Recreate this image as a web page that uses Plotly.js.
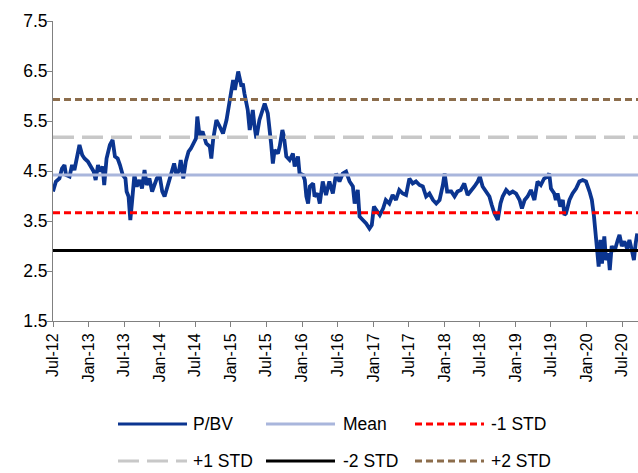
<!DOCTYPE html>
<html>
<head>
<meta charset="utf-8">
<script src="https://cdn.plot.ly/plotly-3.0.1.min.js"></script>
<style>
  html, body { margin: 0; padding: 0; background: #ffffff; }
  #chart { width: 638px; height: 473px; }
</style>
</head>
<body>
<div id="chart"></div>
<script>
// Price-to-book valuation history with mean and standard-deviation bands
const seriesName = 'P/BV';

const dates = [
  '2012-07-01','2012-07-16','2012-08-03','2012-08-16','2012-08-29','2012-09-06','2012-09-24','2012-10-07',
  '2012-10-19','2012-11-01','2012-11-14','2012-11-28','2012-12-10','2012-12-27','2013-01-13','2013-01-26',
  '2013-02-05','2013-02-17','2013-02-28','2013-03-13','2013-03-21','2013-04-02','2013-04-19','2013-05-03',
  '2013-05-15','2013-05-29','2013-06-10','2013-06-24','2013-07-08','2013-07-14','2013-07-24','2013-08-02',
  '2013-08-11','2013-08-23','2013-09-04','2013-09-18','2013-10-01','2013-10-14','2013-10-25','2013-11-08',
  '2013-11-22','2013-12-04','2013-12-16','2013-12-30','2014-01-13','2014-01-25','2014-02-06','2014-02-20',
  '2014-03-03','2014-03-15','2014-03-27','2014-04-10','2014-04-18','2014-05-01','2014-05-14','2014-05-28',
  '2014-06-09','2014-06-21','2014-07-05','2014-07-12','2014-07-17','2014-07-24','2014-08-08',
  '2014-08-27','2014-09-14','2014-09-22',
  '2014-10-01','2014-10-18','2014-11-04','2014-11-21','2014-12-09','2014-12-25','2015-01-04','2015-01-12',
  '2015-01-21','2015-02-07','2015-02-24','2015-03-03','2015-03-11','2015-03-28','2015-04-07','2015-04-15',
  '2015-04-23','2015-05-02','2015-05-11','2015-05-27','2015-06-14','2015-06-23','2015-07-09','2015-07-18',
  '2015-07-26','2015-08-04','2015-08-13','2015-08-30','2015-09-08','2015-09-22','2015-09-30','2015-10-12',
  '2015-10-29','2015-11-15','2015-11-24','2015-12-11','2015-12-19','2016-01-06','2016-01-15','2016-01-23',
  '2016-02-01','2016-02-10','2016-02-27','2016-03-05','2016-03-21','2016-04-01','2016-04-16','2016-05-03',
  '2016-05-20','2016-06-07','2016-06-24','2016-07-11','2016-07-28','2016-08-14','2016-09-01','2016-09-18',
  '2016-09-27','2016-10-13','2016-10-22','2016-11-08','2016-11-25','2016-12-12','2016-12-24','2017-01-04',
  '2017-01-16','2017-02-03','2017-02-20','2017-03-06','2017-03-24','2017-04-10','2017-04-27','2017-05-14',
  '2017-06-01','2017-06-18','2017-07-05','2017-07-22','2017-08-08','2017-08-26','2017-09-12','2017-09-29',
  '2017-10-16','2017-11-03','2017-11-20','2017-12-07','2017-12-24','2018-01-02','2018-01-15','2018-02-05',
  '2018-02-22','2018-03-09','2018-03-26','2018-04-13','2018-04-30','2018-05-17','2018-06-04','2018-06-21',
  '2018-07-02','2018-07-16','2018-08-02','2018-08-20','2018-09-01','2018-09-15','2018-10-02','2018-10-16',
  '2018-10-27','2018-11-14','2018-12-01','2018-12-18','2019-01-04','2019-01-22','2019-02-03','2019-02-17',
  '2019-03-04','2019-03-21','2019-04-08','2019-04-24','2019-05-11','2019-05-28','2019-06-15','2019-06-23',
  '2019-07-02','2019-07-19','2019-07-27','2019-08-05','2019-08-19','2019-09-01','2019-09-09','2019-09-17',
  '2019-10-05','2019-10-21','2019-11-08','2019-11-25','2019-12-12','2019-12-29','2020-01-16','2020-01-28',
  '2020-02-08','2020-02-16','2020-02-24','2020-03-03','2020-03-12','2020-03-20','2020-04-01','2020-04-10',
  '2020-04-22','2020-04-29','2020-05-09','2020-05-23','2020-06-09','2020-06-18','2020-06-30','2020-07-13',
  '2020-07-27','2020-08-08','2020-08-20','2020-08-31','2020-09-09','2020-09-17'
];

const pbv = [
  4.09,4.29,4.35,4.55,4.62,4.42,4.39,4.62,
  4.52,4.82,5.02,4.82,4.75,4.69,4.59,4.49,
  4.32,4.62,4.49,4.59,4.22,4.75,5.02,5.12,
  4.79,4.75,4.62,4.42,4.35,4.09,3.99,3.52,
  3.89,4.42,4.19,4.32,4.15,4.52,4.22,4.35,
  4.09,4.25,4.35,4.42,4.09,3.99,4.15,4.29,
  4.49,4.65,4.42,4.52,4.72,4.35,4.69,4.89,
  4.95,5.05,5.15,5.59,5.42,5.19,5.29,
  5.05,4.99,4.75,
  5.12,5.52,5.39,5.25,5.52,5.92,6.19,6.32,
  6.12,6.49,6.19,6.25,6.05,5.72,5.32,5.55,
  5.72,5.39,5.15,5.52,5.79,5.85,5.65,5.39,
  5.05,4.65,4.92,4.85,4.99,5.32,5.19,4.79,
  4.72,4.85,4.59,4.79,4.45,4.42,4.32,3.99,
  3.85,4.19,4.25,3.99,4.05,3.85,4.29,4.02,
  4.29,4.05,4.45,4.29,4.45,4.49,4.29,4.19,
  3.85,4.12,3.59,3.52,3.45,3.35,3.42,3.79,
  3.72,3.62,3.75,3.92,3.85,4.02,3.92,4.12,
  4.05,4.02,4.35,4.25,4.29,4.22,4.19,3.99,
  4.05,3.92,3.85,3.92,4.22,4.45,4.09,4.09,
  3.99,4.09,4.12,4.25,4.02,4.09,4.19,4.29,
  4.39,4.19,4.09,3.99,3.82,3.65,3.52,3.85,
  3.99,4.12,4.05,4.09,4.05,3.92,3.75,3.92,
  3.99,4.12,3.92,4.29,4.22,4.35,4.39,4.45,
  4.15,4.05,3.92,4.05,3.79,3.92,3.62,3.65,
  3.92,4.05,4.15,4.29,4.32,4.29,4.09,3.92,
  3.59,3.25,2.92,2.59,3.12,2.65,3.19,2.72,
  2.85,2.52,3.00,2.89,3.12,3.22,3.00,3.09,
  2.95,3.12,2.92,2.72,3.05,3.25
];

// Valuation bands (mean and +/- 1, 2 standard deviations)
const bandNames  = ['Mean', '-1 STD', '+1 STD', '-2 STD', '+2 STD'];
const bandValues = [4.42, 3.665, 5.175, 2.91, 5.93];

// Half-yearly ticks
const tickDates = [
  '2012-07-01','2013-01-01','2013-07-01','2014-01-01','2014-07-01','2015-01-01','2015-07-01','2016-01-01',
  '2016-07-01','2017-01-01','2017-07-01','2018-01-01','2018-07-01','2019-01-01','2019-07-01','2020-01-01','2020-07-01'
];
const tickLabels = [
  'Jul-12','Jan-13','Jul-13','Jan-14','Jul-14','Jan-15','Jul-15','Jan-16',
  'Jul-16','Jan-17','Jul-17','Jan-18','Jul-18','Jan-19','Jul-19','Jan-20','Jul-20'
];

const xRange = ['2012-07-01', '2020-09-21'];

// Line styles: series first, then the bands in bandNames order
const styles = [
  { color: '#0B3590', width: 3.8, dash: 'solid' },
  { color: '#A9B6DC', width: 3,   dash: 'solid' },
  { color: '#FF0000', width: 3,   dash: '7px,4px' },
  { color: '#C8C8C8', width: 3.5, dash: '21px,8px' },
  { color: '#000000', width: 3,   dash: 'solid' },
  { color: '#8C6D4C', width: 3,   dash: '7px,4px' }
];

const FONT = 'Arial, "Liberation Sans", sans-serif';
const TEXT_SIZE = 17.5;

const traces = [{
  type: 'scatter', mode: 'lines', name: seriesName,
  x: dates, y: pbv,
  line: { color: styles[0].color, width: styles[0].width, dash: styles[0].dash },
  showlegend: false, hoverinfo: 'x+y'
}];
bandNames.forEach((name, i) => {
  traces.push({
    type: 'scatter', mode: 'lines', name: name,
    x: xRange, y: [bandValues[i], bandValues[i]],
    line: { color: styles[i + 1].color, width: styles[i + 1].width, dash: styles[i + 1].dash },
    showlegend: false, hoverinfo: 'name+y'
  });
});

// Legend drawn below the plot: 2 rows x 3 columns with long line samples
const M = { l: 53, r: 0, t: 21, b: 152 };
const W = 638, H = 473;
const plotW = W - M.l - M.r, plotH = H - M.t - M.b;
const px2x = p => (p - M.l) / plotW;
const py2y = p => (H - M.b - p) / plotH;

const legendNames = [seriesName].concat(bandNames);
const colLineStart = [118, 266, 415];
const colLineEnd   = [187, 335, 484];
const colText      = [191, 341, 489];
const rowY         = [424, 461];

const shapes = [];
const annotations = [];
legendNames.forEach((name, i) => {
  const r = Math.floor(i / 3), c = i % 3;
  const y = py2y(rowY[r]);
  shapes.push({
    type: 'line', xref: 'paper', yref: 'paper',
    x0: px2x(colLineStart[c]), x1: px2x(colLineEnd[c]), y0: y, y1: y,
    line: { color: styles[i].color, width: Math.min(styles[i].width, 3), dash: styles[i].dash }
  });
  annotations.push({
    xref: 'paper', yref: 'paper', x: px2x(colText[c]), y: y,
    xanchor: 'left', yanchor: 'middle', showarrow: false,
    text: name, font: { family: FONT, size: TEXT_SIZE, color: '#000000' }
  });
});

const layout = {
  width: W, height: H,
  margin: M,
  paper_bgcolor: '#ffffff', plot_bgcolor: '#ffffff',
  font: { family: FONT, size: 16, color: '#000000' },
  showlegend: false,
  xaxis: {
    type: 'date', range: xRange,
    tickmode: 'array', tickvals: tickDates, ticktext: tickLabels,
    tickangle: -90, ticks: 'outside', ticklen: 5, tickwidth: 1, tickcolor: '#808080',
    showline: true, linecolor: '#808080', linewidth: 1,
    showgrid: false, zeroline: false,
    tickfont: { family: FONT, size: 16, color: '#000000' }
  },
  yaxis: {
    range: [1.5, 7.5], tickmode: 'linear', tick0: 1.5, dtick: 1,
    tickformat: '.1f',
    ticks: 'outside', ticklen: 5, tickwidth: 1, tickcolor: '#808080',
    ticklabelstandoff: -4,
    showline: true, linecolor: '#808080', linewidth: 1,
    showgrid: false, zeroline: false,
    tickfont: { family: FONT, size: TEXT_SIZE, color: '#000000' }
  },
  shapes: shapes,
  annotations: annotations
};

Plotly.newPlot('chart', traces, layout, { displayModeBar: false, staticPlot: true });
</script>
</body>
</html>
